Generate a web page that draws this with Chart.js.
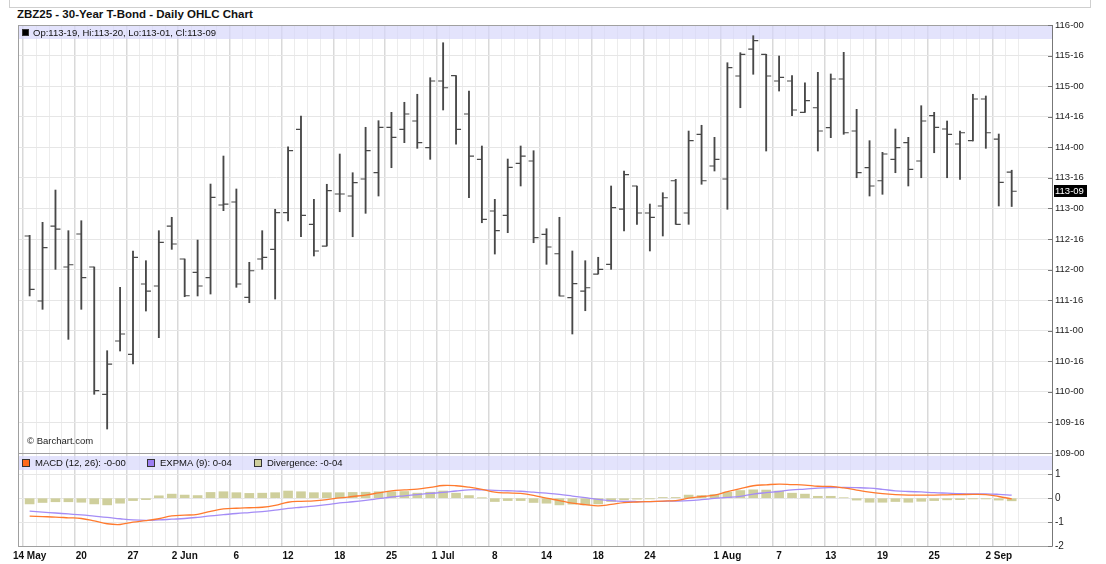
<!DOCTYPE html>
<html>
<head>
<meta charset="utf-8">
<title>ZBZ25 - 30-Year T-Bond - Daily OHLC Chart</title>
<script src="https://cdn.jsdelivr.net/npm/chart.js@4.4.1/dist/chart.umd.min.js"></script>
<style>
  body { margin: 0; background: #fff; font-family: 'Liberation Sans', Arial, sans-serif; }
  #wrap { position: relative; width: 1106px; height: 564px; overflow: hidden; }
  #topbox { position: absolute; left: 9px; top: -2px; width: 1080px; height: 8px; border: 1px solid #cfcfcf; }
  #title { position: absolute; left: 17px; top: 8px; font-weight: bold; font-size: 11.5px; color: #111; }
  #credit { position: absolute; left: 27px; top: 435px; font-size: 9.5px; color: #222; }
  canvas { position: absolute; left: 0; top: 0; }
</style>
</head>
<body>
<div id="wrap">
  <div id="topbox"></div>
  <div id="title">ZBZ25 - 30-Year T-Bond - Daily OHLC Chart</div>
  <canvas id="priceChart" width="1106" height="564"></canvas>
  <canvas id="macdChart" width="1106" height="564"></canvas>
  <div id="credit">© Barchart.com</div>
</div>
<script>
// trading days (2025), one bar each
const dates = [
  '05-14','05-15','05-16','05-19','05-20','05-21','05-22','05-23','05-27','05-28','05-29','05-30',
  '06-02','06-03','06-04','06-05','06-06','06-09','06-10','06-11','06-12','06-13','06-16','06-17','06-18','06-20','06-23','06-24','06-25','06-26','06-27','06-30',
  '07-01','07-02','07-03','07-07','07-08','07-09','07-10','07-11','07-14','07-15','07-16','07-17','07-18','07-21','07-22','07-23','07-24','07-25','07-28','07-29','07-30','07-31',
  '08-01','08-04','08-05','08-06','08-07','08-08','08-11','08-12','08-13','08-14','08-15','08-18','08-19','08-20','08-21','08-22','08-25','08-26','08-27','08-28','08-29',
  '09-02','09-03'
];

// OHLC in points (decimal)
const opens = [
  112.549,111.486,112.712,112.042,112.582,112.042,109.96,110.832,110.614,111.764,111.731,112.712,
  112.173,111.955,111.867,113.056,113.105,111.546,112.173,112.331,112.93,114.294,112.74,112.385,113.236,113.203,113.481,113.584,114.327,114.294,114.43,113.993,
  115.084,115.171,114.544,113.803,112.958,112.887,113.738,113.776,112.577,112.259,111.54,111.649,111.927,112.086,112.99,113.367,112.925,113.04,113.453,112.925,114.212,113.694,
  113.481,115.166,115.607,115.521,115.084,115.084,114.572,114.647,114.32,115.117,114.266,113.666,113.453,113.803,114.075,113.776,114.517,114.299,114.054,114.108,114.79,
  114.135,113.59375
];
const highs = [
  112.56,112.773,113.301,112.636,112.799,112.042,110.673,111.71,112.304,112.145,112.636,112.855,
  112.173,112.483,113.399,113.857,113.318,112.119,112.636,112.986,114.009,114.512,113.149,113.395,113.89,113.584,114.327,114.435,114.572,114.736,114.867,115.138,
  115.71,115.171,114.92,114.021,113.149,113.808,114.021,113.944,112.668,112.855,112.304,112.145,112.201,113.367,113.612,113.367,113.072,113.257,113.476,114.266,114.36,114.163,
  115.383,115.547,115.825,115.521,115.493,115.171,115.056,115.226,115.199,115.553,114.621,114.108,113.918,114.299,114.163,114.68,114.572,114.43,114.266,114.867,114.839,
  114.217,113.625
];
const lows = [
  111.568,111.35,112.004,110.859,111.35,109.96,109.392,110.668,110.455,111.322,110.886,112.331,
  111.556,111.568,111.6,112.963,111.71,111.458,112.004,111.518,112.794,112.537,112.222,112.385,112.946,112.537,112.92,113.203,113.666,114.075,113.983,113.803,
  114.61,114.049,113.175,112.766,112.254,112.603,113.367,112.439,112.086,111.568,110.946,111.327,111.927,112.004,112.631,112.74,112.304,112.549,112.74,112.74,113.395,113.612,
  112.986,114.647,115.194,113.939,114.92,114.517,114.572,113.939,114.157,114.212,113.502,113.203,113.231,113.584,113.367,113.502,113.911,113.502,113.476,114.103,113.983,
  113.04,113.03125
];
const closes = [
  111.677,112.358,112.663,112.079,111.867,110.019,110.455,110.946,112.201,111.649,112.446,112.418,
  111.572,111.731,113.182,113.072,111.764,111.981,112.201,112.93,113.944,112.887,112.304,113.29,113.236,113.421,113.944,114.327,114.163,114.544,114.075,115.084,
  114.974,114.294,113.857,112.822,112.636,113.673,113.857,112.521,112.369,111.568,111.769,111.703,112.004,113.012,113.552,112.925,112.855,113.175,112.74,114.108,113.453,113.803,
  115.302,115.521,115.743,115.166,115.145,114.61,114.762,114.266,115.117,114.238,113.584,113.367,113.89,113.993,113.64,114.43,114.327,114.212,114.238,114.79,114.238,
  113.427,113.28125
];

// MACD panel
const macd = [
  -0.75,-0.77,-0.79,-0.82,-0.85,-0.95,-1.07,-1.10,-1.00,-0.94,-0.86,-0.74,
  -0.71,-0.68,-0.55,-0.45,-0.42,-0.40,-0.38,-0.30,-0.17,-0.13,-0.11,-0.06,0.01,0.07,0.13,0.22,0.31,0.35,0.38,0.45,
  0.53,0.52,0.46,0.37,0.25,0.22,0.20,0.12,0.00,-0.10,-0.21,-0.27,-0.32,-0.26,-0.19,-0.16,-0.14,-0.12,-0.10,0.00,0.07,0.13,
  0.27,0.40,0.52,0.56,0.59,0.57,0.55,0.50,0.49,0.43,0.34,0.25,0.19,0.15,0.13,0.13,0.13,0.14,0.15,0.16,0.15,
  0.07,-0.03
];
const signal = [
  -0.54,-0.58,-0.62,-0.66,-0.70,-0.75,-0.80,-0.86,-0.91,-0.93,-0.91,-0.88,
  -0.85,-0.80,-0.74,-0.69,-0.64,-0.60,-0.56,-0.50,-0.43,-0.38,-0.33,-0.27,-0.20,-0.15,-0.09,-0.02,0.05,0.10,0.15,0.20,
  0.24,0.30,0.35,0.35,0.33,0.31,0.29,0.25,0.21,0.16,0.09,0.02,-0.05,-0.10,-0.13,-0.14,-0.14,-0.13,-0.12,-0.10,-0.06,-0.01,
  0.03,0.08,0.17,0.23,0.28,0.35,0.38,0.42,0.44,0.45,0.44,0.42,0.37,0.31,0.28,0.26,0.23,0.21,0.19,0.18,0.18,
  0.16,0.13
];
const divergence = [
  -0.24,-0.18,-0.15,-0.15,-0.17,-0.24,-0.28,-0.21,-0.10,-0.06,0.10,0.17,
  0.13,0.11,0.24,0.27,0.23,0.20,0.21,0.23,0.30,0.27,0.23,0.23,0.23,0.24,0.25,0.27,0.27,0.28,0.21,0.25,
  0.30,0.21,0.11,0.01,-0.14,-0.10,-0.10,-0.18,-0.21,-0.28,-0.25,-0.28,-0.24,-0.14,-0.07,-0.04,-0.03,0.03,0.03,0.13,0.11,0.15,
  0.25,0.32,0.35,0.34,0.30,0.21,0.17,0.08,0.08,0.02,-0.08,-0.17,-0.17,-0.14,-0.17,-0.13,-0.10,-0.07,-0.06,-0.03,-0.03,
  -0.08,-0.11
];

const xTickDates = ['05-14','05-20','05-27','06-02','06-06','06-12','06-18','06-25','07-01','07-08','07-14','07-18','07-24','08-01','08-07','08-13','08-19','08-25','09-02'];
const xTickText  = ['14 May','20','27','2 Jun','6','12','18','25','1 Jul','8','14','18','24','1 Aug','7','13','19','25','2 Sep'];
const priceTicks = [109, 109.5, 110, 110.5, 111, 111.5, 112, 112.5, 113, 113.5, 114, 114.5, 115, 115.5, 116];
const macdTicks = [-2, -1, 0, 1];
const macdLegend = ['MACD (12, 26): -0-00', 'EXPMA (9): 0-04', 'Divergence: -0-04'];

const FONT = "'Liberation Sans', Arial, sans-serif";
const BAR_COLOR = '#484848';
const last = closes.length - 1;

// map bar index -> date label
const labelAt = {};
xTickDates.forEach((d, k) => { labelAt[dates.indexOf(d)] = xTickText[k]; });

// price in points -> "113-09" (32nds)
function fmt32(v) {
  let whole = Math.floor(v), n = Math.round((v - whole) * 32);
  if (n === 32) { whole++; n = 0; }
  return whole + '-' + String(n).padStart(2, '0');
}

function isLabelTick(ctx) { return ctx.tick && labelAt[ctx.tick.value] !== undefined; }
function vGridColor(ctx) { return isLabelTick(ctx) ? '#d9d9d9' : '#ececec'; }
function vGridWidth(ctx) { return isLabelTick(ctx) ? 1.5 : 1; }

function xAxis(showLabels) {
  return {
    type: 'linear', min: -0.38, max: 78.6,
    afterBuildTicks: s => { s.ticks = dates.map((d, i) => ({ value: i })); },
    afterFit: s => { s.height = showLabels ? 18 : 0; },
    grid: { color: vGridColor, lineWidth: vGridWidth, drawTicks: false },
    border: { display: false },
    ticks: {
      display: showLabels, autoSkip: false, maxRotation: 0, padding: 4,
      color: '#111', font: { family: FONT, size: 10, weight: 'bold' },
      callback: v => labelAt[v] !== undefined ? labelAt[v] : ''
    }
  };
}

// border around the plot and short inner tick marks on the right axis
const framePlugin = {
  id: 'frame',
  afterDraw(chart) {
    const { ctx, chartArea: a } = chart;
    const ys = chart.scales.y;
    ctx.save();
    ctx.strokeStyle = '#a0a0a0';
    ctx.lineWidth = 1;
    ctx.strokeRect(a.left + 0.5, a.top + 0.5, a.right - a.left, a.bottom - a.top);
    ctx.strokeStyle = '#777';
    ctx.beginPath();
    ctx.moveTo(a.right + 0.5, a.top); ctx.lineTo(a.right + 0.5, a.bottom);
    ys.ticks.forEach(t => {
      const y = Math.round(ys.getPixelForValue(t.value)) + 0.5;
      ctx.moveTo(a.right - 4, y); ctx.lineTo(a.right, y);
    });
    ctx.stroke();
    ctx.restore();
  }
};

function drawBand(chart, top, h) {
  const { ctx, chartArea: a } = chart;
  ctx.fillStyle = 'rgba(214,214,250,0.68)';
  ctx.fillRect(a.left + 1, top, a.right - a.left - 1, h);
}

function legendBox(ctx, x, y, s, color) {
  ctx.fillStyle = color;
  ctx.fillRect(x, y, s, s);
  ctx.strokeStyle = '#333';
  ctx.lineWidth = 1;
  ctx.strokeRect(x + 0.5, y + 0.5, s - 1, s - 1);
}

const priceBandPlugin = {
  id: 'priceBand',
  beforeDatasetsDraw(chart) {
    const { ctx, chartArea: a } = chart;
    ctx.save();
    drawBand(chart, a.top + 1, 13);
    legendBox(ctx, a.left + 4, a.top + 4, 7, '#000');
    ctx.fillStyle = '#111';
    ctx.font = '9.5px ' + FONT;
    ctx.textBaseline = 'middle';
    const txt = 'Op:' + fmt32(opens[last]) + ', Hi:' + fmt32(highs[last]) +
      ', Lo:' + fmt32(lows[last]) + ', Cl:' + fmt32(closes[last]);
    ctx.fillText(txt, a.left + 15, a.top + 8);
    ctx.restore();
  }
};

// open tick left, close tick right
const ohlcTickPlugin = {
  id: 'ohlcTicks',
  afterDatasetsDraw(chart) {
    const { ctx, scales: { x, y } } = chart;
    ctx.save();
    ctx.strokeStyle = BAR_COLOR;
    ctx.lineWidth = 1.2;
    ctx.beginPath();
    opens.forEach((o, i) => {
      const px = x.getPixelForValue(i);
      const yo = y.getPixelForValue(o), yc = y.getPixelForValue(closes[i]);
      ctx.moveTo(px - 5, yo); ctx.lineTo(px, yo);
      ctx.moveTo(px, yc); ctx.lineTo(px + 5, yc);
    });
    ctx.stroke();
    ctx.restore();
  }
};

const lastPricePlugin = {
  id: 'lastPrice',
  afterDraw(chart) {
    const { ctx, chartArea: a, scales: { y } } = chart;
    const py = y.getPixelForValue(closes[last]);
    ctx.save();
    ctx.fillStyle = '#000';
    ctx.fillRect(a.right + 2, Math.round(py) - 6, 33, 12);
    ctx.fillStyle = '#fff';
    ctx.font = '9.5px ' + FONT;
    ctx.textBaseline = 'middle';
    ctx.fillText(fmt32(closes[last]), a.right + 3, py + 0.5);
    ctx.restore();
  }
};

const macdBandPlugin = {
  id: 'macdBand',
  beforeDatasetsDraw(chart) {
    const { ctx, chartArea: a } = chart;
    ctx.save();
    drawBand(chart, a.top + 3, 14);
    const colors = ['#ff6a1a', '#9c7ef2', '#cfcf9c'];
    const xs = [a.left + 4, a.left + 129, a.left + 236];
    ctx.font = '9.5px ' + FONT;
    ctx.textBaseline = 'middle';
    macdLegend.forEach((t, k) => {
      legendBox(ctx, xs[k], a.top + 6, 8, colors[k]);
      ctx.fillStyle = '#111';
      ctx.fillText(t, xs[k] + 13, a.top + 10.5);
    });
    ctx.restore();
  }
};

const priceChart = new Chart(document.getElementById('priceChart'), {
  type: 'bar',
  data: {
    datasets: [{
      data: highs.map((h, i) => ({ x: i, y: [lows[i], h] })),
      backgroundColor: BAR_COLOR,
      barThickness: 1.2,
      grouped: false
    }]
  },
  options: {
    responsive: false,
    animation: false,
    devicePixelRatio: 1,
    layout: { padding: { left: 18, top: 25, right: 0, bottom: 111 } },
    plugins: { legend: { display: false }, tooltip: { enabled: false } },
    scales: {
      x: xAxis(false),
      y: {
        position: 'right', min: 109, max: 116,
        afterBuildTicks: s => { s.ticks = priceTicks.map(v => ({ value: v })); },
        afterFit: s => { s.width = 54; },
        grid: { color: '#e6e6e6', drawTicks: false },
        border: { display: false },
        ticks: { padding: 3, color: '#222', font: { family: FONT, size: 9.5 }, callback: v => fmt32(v) }
      }
    }
  },
  plugins: [priceBandPlugin, ohlcTickPlugin, framePlugin, lastPricePlugin]
});

const macdChart = new Chart(document.getElementById('macdChart'), {
  type: 'bar',
  data: {
    datasets: [
      {
        type: 'line', data: macd.map((v, i) => ({ x: i, y: v })),
        borderColor: '#ff7a2e', borderWidth: 1.3, pointRadius: 0, tension: 0.4
      },
      {
        type: 'line', data: signal.map((v, i) => ({ x: i, y: v })),
        borderColor: '#a48cf6', borderWidth: 1.3, pointRadius: 0, tension: 0.4
      },
      {
        type: 'bar', data: divergence.map((v, i) => ({ x: i, y: v })),
        backgroundColor: '#cfcf9c', barThickness: 9, grouped: false
      }
    ]
  },
  options: {
    responsive: false,
    animation: false,
    devicePixelRatio: 1,
    layout: { padding: { left: 18, top: 453, right: 0, bottom: 0 } },
    plugins: { legend: { display: false }, tooltip: { enabled: false } },
    scales: {
      x: xAxis(true),
      y: {
        position: 'right', min: -2, max: 1.89,
        afterBuildTicks: s => { s.ticks = macdTicks.map(v => ({ value: v })); },
        afterFit: s => { s.width = 54; },
        grid: { color: '#e6e6e6', drawTicks: false },
        border: { display: false },
        ticks: { padding: 3, color: '#222', font: { family: FONT, size: 10 } }
      }
    }
  },
  plugins: [macdBandPlugin, framePlugin]
});
</script>
</body>
</html>
